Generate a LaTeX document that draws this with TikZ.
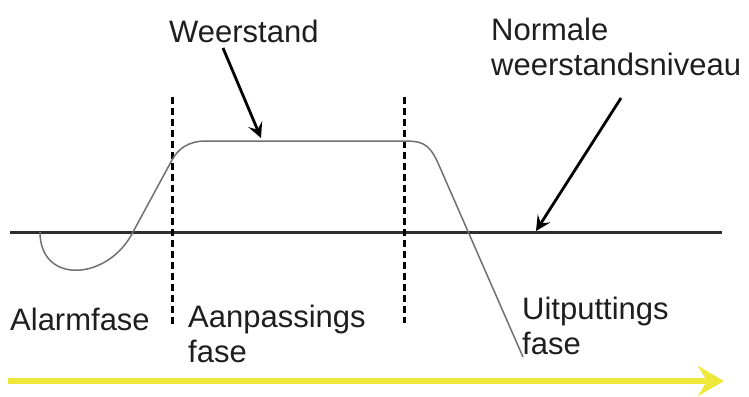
\documentclass[tikz,border=0pt]{standalone}
\usepackage{fontspec}
\setmainfont{Liberation Sans}
\usetikzlibrary{arrows.meta}
\definecolor{txt}{HTML}{1E1E1E}
\definecolor{curvegray}{HTML}{707070}
\definecolor{axisgray}{HTML}{2E2E2E}
\definecolor{timeyellow}{HTML}{EEE83A}
\tikzset{
  lbl/.style={anchor=base west, inner sep=0pt, text=txt, align=left,
    font=\fontsize{31}{35}\selectfont},
  pointer/.style={line width=2.8pt, black,
    -{Stealth[length=15pt,width=15pt,inset=6pt]}},
  phaseline/.style={line width=3pt, black, dash pattern=on 7pt off 4pt},
  levelline/.style={line width=3pt, axisgray},
  response/.style={line width=1.5pt, curvegray},
  timearrow/.style={line width=6pt, timeyellow,
    -{Stealth[length=26pt,width=30pt,inset=9pt]}}
}
\begin{document}
\begin{tikzpicture}[x=1pt,y=-1pt]
\useasboundingbox (0,0) rectangle (749,396);

% normal resistance level
\coordinate (lvlL) at (10,232);
\coordinate (lvlR) at (722,232);
\draw[levelline] (lvlL) -- (lvlR);

% phase boundaries
\coordinate (b1top) at (172,97);  \coordinate (b1bot) at (172,325);
\coordinate (b2top) at (404,97);  \coordinate (b2bot) at (404,323);
\draw[phaseline] (b1top) -- (b1bot);
\draw[phaseline] (b2top) -- (b2bot);

% resistance curve
\draw[response] (40,232) .. controls (40,285) and (108,281) .. (133,232)
  -- (172,160) .. controls (178,149) and (188,141) .. (206,141)
  -- (400,141) .. controls (420,141) and (428,141) .. (438,163)
  -- (523,357);

% labels (base anchor sits on the last line)
\node[lbl] (weerstand) at (169,42) {Weerstand};
\node[lbl] (normaal) at (491,75) {Normale\\weerstandsniveau};
\node[lbl] (alarm) at (10,330) {Alarmfase};
\node[lbl] (aanpas) at (188,362) {Aanpassings\\fase};
\node[lbl] (uitput) at (522,354) {Uitputtings\\fase};

% pointers
\coordinate (wStart) at (223,48);
\coordinate (wEnd) at (261,138);
\draw[pointer] (wStart) -- (wEnd);
\coordinate (nStart) at (621,98);
\coordinate (nEnd) at (536,231);
\draw[pointer] (nStart) -- (nEnd);

% time axis
\coordinate (tStart) at (8,381);
\coordinate (tEnd) at (724,381);
\draw[timearrow] (tStart) -- (tEnd);
\end{tikzpicture}
\end{document}
